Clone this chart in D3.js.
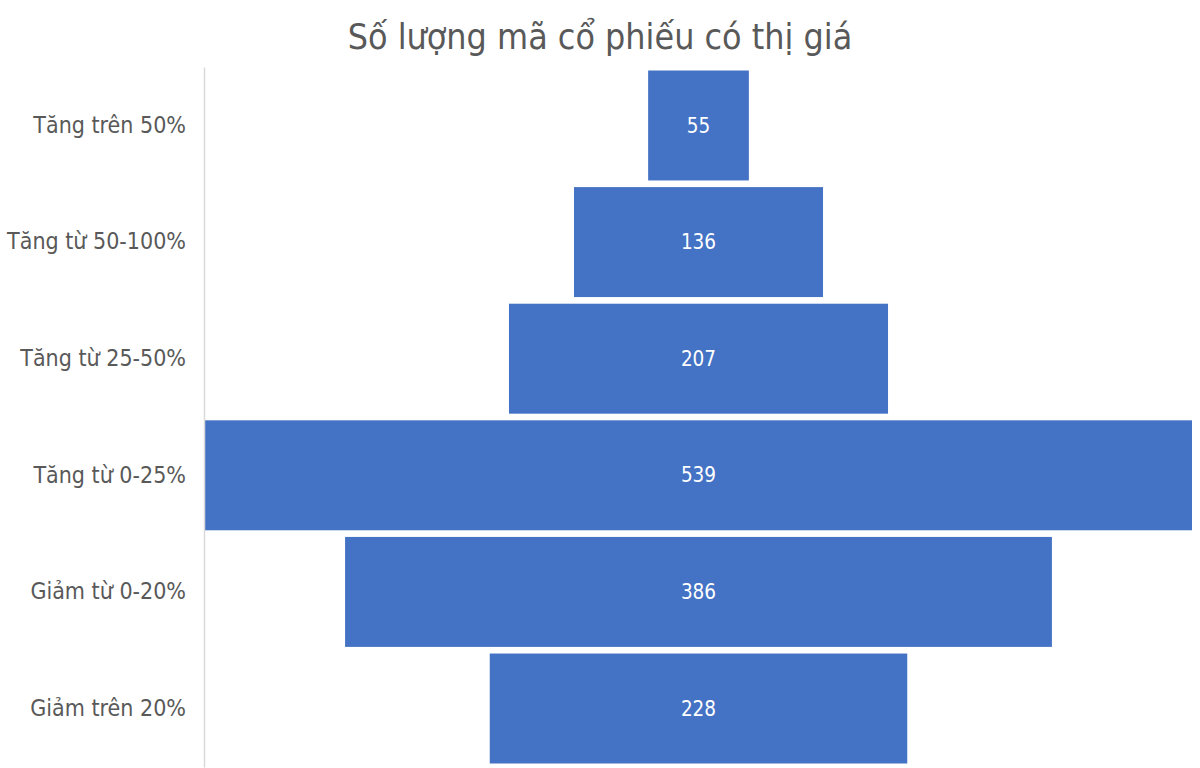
<!DOCTYPE html>
<html>
<head>
<meta charset="utf-8">
<script src="https://cdn.jsdelivr.net/npm/d3@7"></script>
<style>
  body { margin: 0; background: #fff; }
  text { font-family: "DejaVu Sans Condensed", "DejaVu Sans", sans-serif; }
</style>
</head>
<body>
<div id="chart"></div>
<script>
// Data
const categories = ['Tăng trên 50%', 'Tăng từ 50-100%', 'Tăng từ 25-50%', 'Tăng từ 0-25%', 'Giảm từ 0-20%', 'Giảm trên 20%'];
const counts = [55, 136, 207, 539, 386, 228];
const chartTitle = 'Số lượng mã cổ phiếu có thị giá';

const width = 1200, height = 768;
const margin = { top: 67, right: 8, bottom: 1, left: 204 };

const svg = d3.select('#chart').append('svg')
    .attr('width', width)
    .attr('height', height);

const rows = categories.map((c, i) => ({ cat: c, value: counts[i] }));

const y = d3.scaleBand()
    .domain(categories)
    .range([margin.top, height - margin.bottom])
    .paddingInner(0.057)
    .paddingOuter(0.03);

// funnel: bars centred, width proportional to value
const x = d3.scaleLinear()
    .domain([0, d3.max(counts)])
    .range([0, width - margin.right - margin.left - 1]);
const cx = margin.left + 1 + x(d3.max(counts)) / 2;

svg.append('text')
    .attr('x', 600)
    .attr('y', 49)
    .attr('text-anchor', 'middle')
    .attr('fill', '#595959')
    .style('font-size', '35.5px')
    .text(chartTitle);

svg.selectAll('.bar')
    .data(rows)
    .enter()
    .append('rect')
    .attr('class', 'bar')
    .attr('x', d => cx - x(d.value) / 2)
    .attr('y', d => y(d.cat))
    .attr('width', d => x(d.value))
    .attr('height', y.bandwidth())
    .attr('fill', '#4472C4');

svg.selectAll('.val')
    .data(rows)
    .enter()
    .append('text')
    .attr('class', 'val')
    .attr('x', cx)
    .attr('y', d => y(d.cat) + y.bandwidth() / 2)
    .attr('dy', '0.35em')
    .attr('text-anchor', 'middle')
    .attr('fill', '#fff')
    .style('font-size', '20.5px')
    .text(d => d.value);

// category axis
const axis = svg.append('g')
    .attr('transform', `translate(${margin.left},0)`)
    .call(d3.axisLeft(y).tickSize(0).tickPadding(18));
axis.select('.domain').attr('stroke', '#d9d9d9').attr('stroke-width', 1.5);
axis.selectAll('text')
    .attr('fill', '#595959')
    .style('font-size', '23px');
</script>
</body>
</html>
